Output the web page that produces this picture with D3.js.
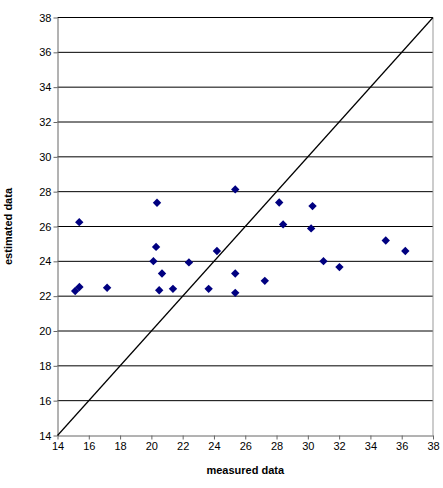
<!DOCTYPE html><html><head><meta charset="utf-8"><script src="https://cdn.jsdelivr.net/npm/d3@7"></script>
<style>body{margin:0;background:#fff}text{font-family:"Liberation Sans",Arial,sans-serif}</style></head><body><svg id="c" width="443" height="488"></svg>
<script>
const measured=[15.13,15.4,15.39,17.17,20.36,20.3,20.13,20.68,20.5,21.38,22.4,23.66,24.19,25.36,25.36,25.36,28.17,28.42,30.3,30.21,31.0,32.02,27.25,34.98,36.23];
const estimated=[22.3,22.53,26.25,22.48,27.36,24.83,24.01,23.3,22.34,22.42,23.94,22.42,24.59,28.13,23.3,22.19,27.38,26.12,27.17,25.89,24.01,23.67,22.88,25.2,24.59];
const ticks=[14,16,18,20,22,24,26,28,30,32,34,36,38];
const svg=d3.select("#c");
const x=d3.scaleLinear().domain([14,38]).range([57.5,433]);
const y=d3.scaleLinear().domain([14,38]).range([435.5,17.5]);
const g=svg.append("g");
g.selectAll("line.gr").data(ticks.slice(1)).join("line").attr("x1",x(14)).attr("x2",x(38)).attr("y1",d=>y(d)).attr("y2",d=>y(d)).attr("stroke","#000").attr("stroke-width",1);
g.append("line").attr("x1",x(38)).attr("x2",x(38)).attr("y1",y(14)).attr("y2",y(38)).attr("stroke","#999");
const ya=svg.append("g").attr("transform",`translate(${x(14)},0)`).call(d3.axisLeft(y).tickValues(ticks).tickSize(4).tickSizeOuter(0));
const xa=svg.append("g").attr("transform",`translate(0,${y(14)})`).call(d3.axisBottom(x).tickValues(ticks).tickSize(4).tickSizeOuter(0));
[ya,xa].forEach(a=>{a.selectAll("path,line").attr("stroke","#666");a.selectAll("text").attr("font-size",11).attr("fill","#000").style("font-family","Liberation Sans, Arial");});
ya.selectAll("text").attr("x",-6);
svg.append("line").attr("x1",x(14)).attr("y1",y(14)).attr("x2",x(38)).attr("y2",y(38)).attr("stroke","#000").attr("stroke-width",1.2);
svg.selectAll("path.pt").data(measured).join("path").attr("d","M0,-4.2L4.2,0L0,4.2L-4.2,0Z").attr("fill","#000080")
 .attr("transform",(d,i)=>`translate(${x(d)},${y(estimated[i])})`);
svg.append("text").attr("x",(x(14)+x(38))/2).attr("y",474).attr("text-anchor","middle").attr("font-size",11).attr("font-weight","bold").text("measured data");
svg.append("text").attr("transform",`translate(12,${(y(14)+y(38))/2}) rotate(-90)`).attr("text-anchor","middle").attr("font-size",11).attr("font-weight","bold").text("estimated data");
</script></body></html>
